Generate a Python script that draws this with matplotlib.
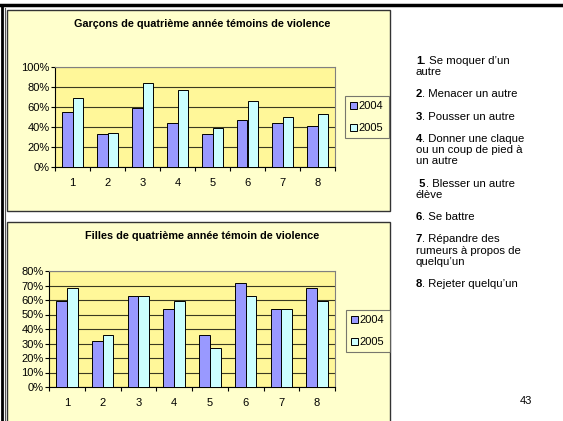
import numpy as np
import matplotlib
matplotlib.use("Agg")
import matplotlib.pyplot as plt
from matplotlib.patches import Rectangle
from matplotlib.lines import Line2D

plt.rcParams["font.family"] = ["Liberation Sans", "DejaVu Sans"]

# Data
categories = ["1", "2", "3", "4", "5", "6", "7", "8"]
series = ["2004", "2005"]
boys_2004 = [55, 33, 59, 44, 33, 47, 44, 41]
boys_2005 = [69, 34, 84, 77, 39, 66, 50, 53]
girls_2004 = [59, 32, 63, 54, 36, 72, 54, 68]
girls_2005 = [68, 36, 63, 59, 27, 63, 54, 59]
title_boys = "Garçons de quatrième année témoins de violence"
title_girls = "Filles de quatrième année témoin de violence"
side_lines = [
    ("1.", " Se moquer d\u2019un"), ("", "autre"), None,
    ("2", ". Menacer un autre"), None,
    ("3", ". Pousser un autre"), None,
    ("4", ". Donner une claque"), ("", "ou un coup de pied à"), ("", "un autre"), None,
    (" 5", ". Blesser un autre"), ("", "élève"), None,
    ("6", ". Se battre"), None,
    ("7", ". Répandre des"), ("", "rumeurs à propos de"), ("", "quelqu\u2019un"), None,
    ("8", ". Rejeter quelqu\u2019un"),
]
page_num = "43"

W, H = 563, 421
c04 = "#9999FF"
c05 = "#CCFFFF"
chart_bg = "#FFFFCC"
plot_bg = "#FFF799"
fs = 8

fig = plt.figure(figsize=(W / 100, H / 100), dpi=100)
fig.patch.set_facecolor("white")


def fx(px):
    return px / W


def fy(py):
    return 1 - py / H


# page frame lines
fig.add_artist(Line2D([0, 1], [fy(5), fy(5)], color="black", lw=2.5))
fig.add_artist(Line2D([fx(2), fx(2)], [0, fy(5)], color="black", lw=2.0))
fig.add_artist(Line2D([fx(5), fx(5)], [0, fy(8)], color="#555555", lw=0.8))

# chart boxes
for top, bot in [(10, 211), (222, 425)]:
    fig.add_artist(Rectangle((fx(7), fy(bot)), fx(390) - fx(7), fy(top) - fy(bot),
                             transform=fig.transFigure, facecolor=chart_bg,
                             edgecolor="#333333", lw=1.0, zorder=0))


def draw_chart(rect, v04, v05, ymax, step, title, title_y, leg_xy):
    ax = fig.add_axes(rect)
    x = np.arange(len(categories))
    w = 0.3
    ax.bar(x - w / 2, v04, w, color=c04, edgecolor="black", lw=0.7, zorder=3, label=series[0])
    ax.bar(x + w / 2, v05, w, color=c05, edgecolor="black", lw=0.7, zorder=3, label=series[1])
    ax.set_facecolor(plot_bg)
    ax.set_xlim(-0.5, len(categories) - 0.5)
    ax.set_ylim(0, ymax)
    yt = np.arange(0, ymax + 1, step)
    ax.set_yticks(yt)
    ax.set_yticklabels([f"{v}%" for v in yt], fontsize=fs)
    ax.yaxis.grid(True, color="#3a3a20", lw=0.8, zorder=1)
    ax.set_xticks(np.arange(-0.5, len(categories), 1.0))
    ax.set_xticklabels([])
    ax.set_xticks(x, minor=True)
    ax.set_xticklabels(categories, minor=True, fontsize=fs)
    ax.tick_params(axis="x", which="minor", length=0, pad=8)
    ax.tick_params(axis="x", which="major", length=3, width=0.8, direction="out")
    ax.tick_params(axis="y", length=3, width=0.8, direction="out", pad=1)
    for s in ["top", "right"]:
        ax.spines[s].set_color("#808080")
        ax.spines[s].set_linewidth(0.8)
    for s in ["left", "bottom"]:
        ax.spines[s].set_color("black")
        ax.spines[s].set_linewidth(0.8)
    fig.text(fx(202), fy(title_y), title, ha="center", va="center",
             fontsize=7.8, fontweight="bold")
    leg = ax.legend(loc="upper left", bbox_to_anchor=leg_xy, bbox_transform=fig.transFigure,
                    fontsize=fs, frameon=True, fancybox=False, handlelength=0.6,
                    handleheight=0.6, handletextpad=0.2, labelspacing=1.1,
                    borderpad=0.45, borderaxespad=0)
    leg.get_frame().set_facecolor(chart_bg)
    leg.get_frame().set_edgecolor("#555555")
    leg.get_frame().set_linewidth(0.8)
    return ax


draw_chart([fx(55), fy(167), fx(335) - fx(55), fy(67) - fy(167)],
           boys_2004, boys_2005, 100, 20, title_boys, 24, (fx(345), fy(96)))
draw_chart([fx(49), fy(387), fx(335) - fx(49), fy(271) - fy(387)],
           girls_2004, girls_2005, 80, 10, title_girls, 236, (fx(346), fy(310)))

# side text
sfs = 8.2
y = 60.7
fig.canvas.draw()
for item in side_lines:
    if item is None:
        y += 11.3
        continue
    num, rest = item
    if num:
        t = fig.text(fx(416), fy(y), num, fontsize=sfs, fontweight="bold", ha="left", va="center")
        bb = t.get_window_extent(renderer=fig.canvas.get_renderer())
        xr = bb.x1 / W
        fig.text(xr, fy(y), rest, fontsize=sfs, ha="left", va="center")
    else:
        fig.text(fx(416), fy(y), rest, fontsize=sfs, ha="left", va="center")
    y += 11.1

fig.text(fx(526), fy(401), page_num, fontsize=fs, ha="center", va="center")

fig.savefig("out.png", dpi=100)
